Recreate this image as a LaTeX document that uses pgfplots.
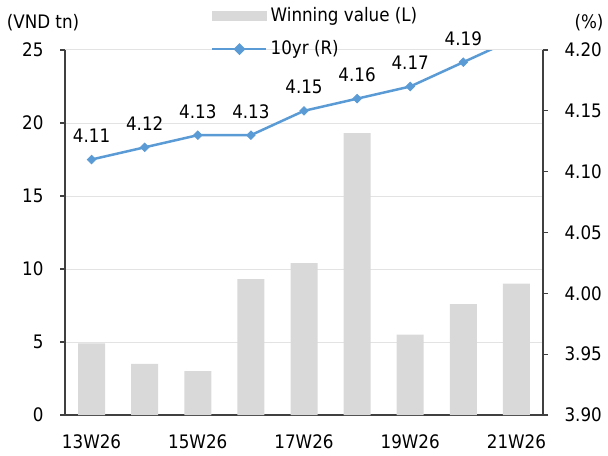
\documentclass[border=0pt]{standalone}
\usepackage{pgfplots}
\pgfplotsset{compat=1.18}
\usepackage{fontspec}
\setmainfont{DejaVu Sans Condensed}
\definecolor{barc}{HTML}{D9D9D9}
\definecolor{linec}{HTML}{5B9BD5}
\definecolor{gridc}{HTML}{E3E3E3}
\pgfplotsset{
  lineleg/.style={legend image code/.code={\draw[mark repeat=2,mark phase=2,##1] plot coordinates {(0pt,0pt) (13.5pt,0pt) (27pt,0pt)};}},
  barleg/.style={legend image code/.code={\fill[barc] (0pt,-2.3pt) rectangle (27pt,2.3pt);}},
}
\begin{document}
\fontsize{9.3}{11}\selectfont
\begin{tikzpicture}
\useasboundingbox (0,0) rectangle (304pt,227.5pt);
\pgfplotsset{
  common/.style={
    at={(32.5pt,20pt)}, anchor=south west,
    width=239pt, height=182.5pt, scale only axis,
    xmin=-0.5, xmax=8.5,
    tick align=outside, major tick length=2.5pt,
    axis line style={draw=black!75, line width=0.6pt, -},
    tick style={draw=black!75, line width=0.6pt},
    tick label style={font=\fontsize{9.3}{11}\selectfont, black},
    /pgf/number format/assume math mode=true,
  }
}
\begin{axis}[common,
  ymin=0, ymax=25, ytick={0,5,10,15,20,25},
  xtick={0,2,4,6,8}, xticklabels={13W26,15W26,17W26,19W26,21W26},
  xtick style={draw=none},
  axis x line*=bottom, axis y line*=left,
  ymajorgrids, grid style={gridc, line width=0.5pt},
  yticklabel style={xshift=-5pt},
  xticklabel style={yshift=-4pt},
]
\addplot[ybar, bar width=13.5pt, fill=barc, draw=none] coordinates {
  (0,4.9) (1,3.5) (2,3.0) (3,9.3) (4,10.4) (5,19.3) (6,5.5) (7,7.6) (8,9.0)
};
\end{axis}
\begin{axis}[common,
  ymin=3.9, ymax=4.2, ytick={3.90,3.95,4.00,4.05,4.10,4.15,4.20},
  axis y line*=right, axis x line=none,
  yticklabel style={/pgf/number format/.cd, fixed, fixed zerofill, precision=2, /tikz/.cd, xshift=5pt},
  legend style={at={(axis description cs:0.305,1.125)}, anchor=north west,
    draw=none, fill=none, inner sep=0pt, row sep=5pt,
    font=\fontsize{9.3}{11}\selectfont,
    nodes={inner sep=1.5pt}},
  legend cell align=left,
]
\addlegendimage{barleg}
\addlegendentry{Winning value (L)}
\addlegendimage{lineleg, linec, line width=1.25pt, mark=square*, mark size=1.5pt, mark options={rotate=45}}
\addlegendentry{10yr (R)}
\addplot[linec, line width=1.25pt, mark=none, forget plot] coordinates {
  (0,4.11) (1,4.12) (2,4.13) (3,4.13) (4,4.15) (5,4.16) (6,4.17) (7,4.19) (8,4.21)
};
\addplot[draw=none, mark=square*, mark size=1.5pt, mark options={rotate=45, fill=linec, draw=linec},
  forget plot,
  nodes near coords,
  nodes near coords style={black, font=\fontsize{9.3}{11}\selectfont, anchor=south, yshift=5pt,
    /pgf/number format/.cd, fixed, fixed zerofill, precision=2, assume math mode=true},
] coordinates {
  (0,4.11) (1,4.12) (2,4.13) (3,4.13) (4,4.15) (5,4.16) (6,4.17) (7,4.19)
};
\end{axis}
\node[font=\fontsize{9.3}{11}\selectfont] at (21.5pt,216pt) {(VND tn)};
\node[font=\fontsize{9.3}{11}\selectfont] at (294.5pt,216pt) {(\%)};
\end{tikzpicture}
\end{document}
